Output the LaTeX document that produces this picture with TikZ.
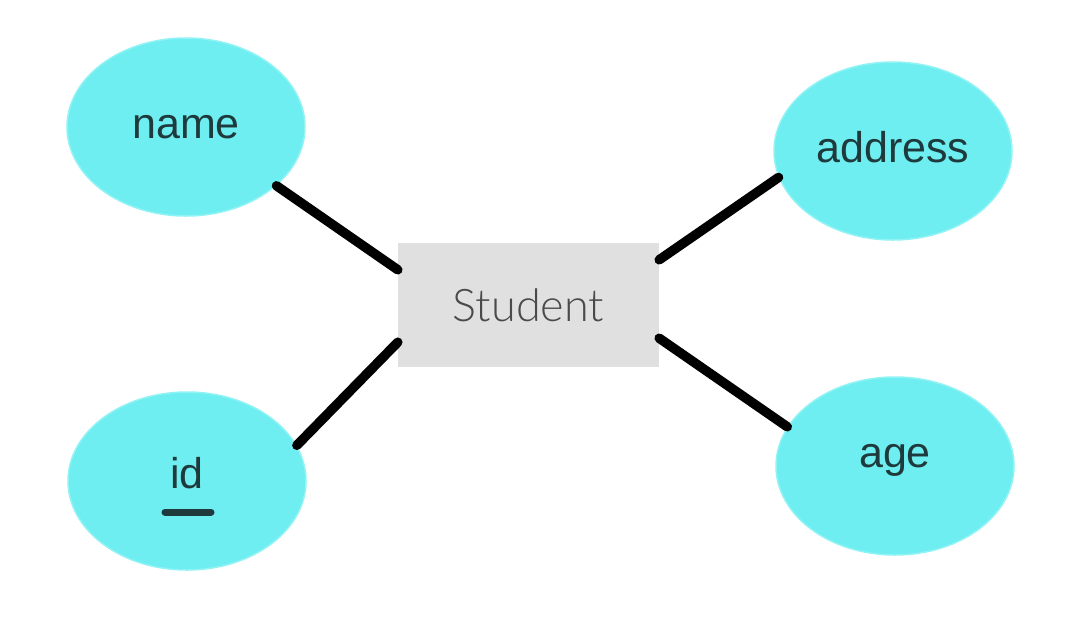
\documentclass[tikz,border=0pt]{standalone}
\usepackage{fontspec}
\setmainfont{Liberation Sans}
\newfontfamily\studentfont{Lato Light}
\usetikzlibrary{shapes.geometric}
\definecolor{attrfill}{HTML}{6EEEF0}
\definecolor{attrrim}{HTML}{92F3F5}
\definecolor{attrtxt}{HTML}{1E3A3C}
\definecolor{boxfill}{HTML}{E0E0E0}
\definecolor{boxtxt}{HTML}{4A4A4A}
\tikzset{
  attrtext/.style={text=attrtxt, font=\fontsize{43}{50}\selectfont,
    text height=22pt, text depth=0pt},
  attr/.style={ellipse, fill=attrfill, draw=attrrim, line width=1.5pt,
    minimum width=238pt, minimum height=178pt, inner sep=0pt, attrtext},
  entity/.style={rectangle, fill=boxfill, minimum width=261pt, minimum height=124pt,
    inner sep=0pt, text=boxtxt, font=\studentfont\fontsize{45}{54}\selectfont},
  link/.style={line width=9.5pt, line cap=round, black},
  keymark/.style={line width=7pt, line cap=round, attrtxt}
}
\begin{document}
\begin{tikzpicture}[x=1pt,y=-1pt]
\useasboundingbox (0,0) rectangle (1088,630);
\node[attr] (name) at (186,127) {name};
\node[attr] (address) at (893,151) {address};
\node[attr, label={[attrtext, yshift=4pt]center:id}] (id) at (187,481) {};
\node[attr, label={[attrtext, yshift=10pt]center:age}] (age) at (895,466) {};
\node[entity] (student) at (528.5,305) {Student};
\coordinate (sNW) at ([yshift=-27pt]student.north west);
\coordinate (sSW) at ([yshift=25pt]student.south west);
\coordinate (sNE) at ([yshift=-17pt]student.north east);
\coordinate (sSE) at ([yshift=29pt]student.south east);
\draw[link] (name.-33) -- (sNW);
\draw[link] (id.18) -- (sSW);
\draw[link] (address.193) -- (sNE);
\draw[link] (age.160) -- (sSE);
\coordinate (kL) at ([xshift=-22pt,yshift=-31pt]id.center);
\coordinate (kR) at ([xshift=24pt,yshift=-31pt]id.center);
\draw[keymark] (kL) -- (kR);
\end{tikzpicture}
\end{document}
